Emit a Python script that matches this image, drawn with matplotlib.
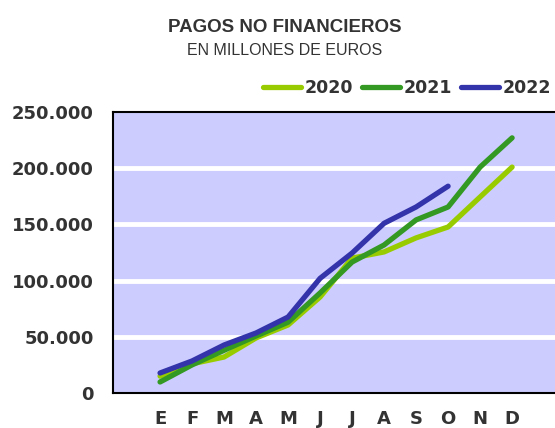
import matplotlib.pyplot as plt
from matplotlib.ticker import FuncFormatter

plt.rcParams['font.family'] = ['Liberation Sans', 'DejaVu Sans']

months = ['E', 'F', 'M', 'A', 'M', 'J', 'J', 'A', 'S', 'O', 'N', 'D']
pagos_2020 = [15000, 26000, 32000, 49000, 60500, 85400, 120000, 125500, 138000, 147700, 174400, 201000]
pagos_2021 = [9800, 25000, 38000, 50700, 63000, 89000, 116500, 131700, 154000, 165500, 201000, 227000]
pagos_2022 = [17800, 28500, 42700, 53400, 67600, 102000, 124500, 151000, 165500, 184000]

TXT = '#333333'

fig = plt.figure(figsize=(5.55, 4.28), dpi=100)
ax = fig.add_axes([113 / 555, 1 - 393 / 428, 1 - 113 / 555, (393 - 112) / 428])
ax.set_facecolor('#ccccff')

x = list(range(len(months)))
ax.plot(x, pagos_2020, color='#99cc00', lw=3.8, solid_capstyle='round', label='2020', zorder=3)
ax.plot(x, pagos_2021, color='#339922', lw=3.8, solid_capstyle='round', label='2021', zorder=4)
ax.plot(x[:len(pagos_2022)], pagos_2022, color='#3333aa', lw=3.8, solid_capstyle='round',
        label='2022', zorder=5)

ax.set_ylim(0, 250000)
ax.set_xlim(-1.47, 12.34)
ax.set_yticks(range(0, 250001, 50000))
ax.yaxis.set_major_formatter(FuncFormatter(lambda v, p: f'{int(v):,}'.replace(',', '.')))
ax.set_xticks(x)
ax.set_xticklabels(months)
for y in range(50000, 250000, 50000):
    ax.axhline(y, color='white', lw=3.5, zorder=1)

for s in ['left', 'top', 'bottom']:
    ax.spines[s].set_linewidth(1.5)
    ax.spines[s].set_color('black')
ax.spines['right'].set_visible(False)
ax.tick_params(length=0, colors=TXT)
ax.tick_params(axis='y', pad=14)
ax.tick_params(axis='x', pad=12)
for lbl in ax.get_xticklabels() + ax.get_yticklabels():
    lbl.set_fontfamily('DejaVu Sans')
    lbl.set_fontweight('bold')
    lbl.set_fontsize(13)

fig.text(0.513, 0.935, 'PAGOS NO FINANCIEROS', ha='center', va='center',
         fontsize=13.5, fontweight='bold', color=TXT)
fig.text(0.513, 0.882, 'EN MILLONES DE EUROS', ha='center', va='center',
         fontsize=11.5, color=TXT)

leg = fig.legend(loc='center right', bbox_to_anchor=(0.993, 1 - 88 / 428), ncol=3,
                 frameon=False, prop={'family': 'DejaVu Sans', 'weight': 'bold', 'size': 12.5},
                 handlelength=2.2, handletextpad=0.2,
                 columnspacing=0.5, borderaxespad=0, borderpad=0)
for t in leg.get_texts():
    t.set_color(TXT)

fig.savefig('out.png', dpi=100)
